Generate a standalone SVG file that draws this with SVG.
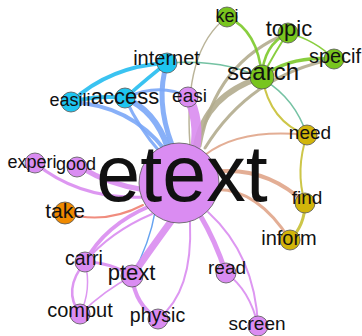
<svg xmlns="http://www.w3.org/2000/svg" width="362" height="336" viewBox="0 0 362 336">
<style>
text{font-family:"Liberation Sans",Arial,sans-serif;fill:#111;text-anchor:middle}
.n{stroke:#555;stroke-width:0.8}
.pk{fill:#da8cf2}.bl{fill:#1ec5f0}.gr{fill:#78c51e}.ye{fill:#d2b50a}.or{fill:#f08a00}
path{fill:none;stroke-linecap:round;stroke-opacity:0.9}
.ep{stroke:#d98cf0}.eb{stroke:#7ba7f7}.ec{stroke:#25bcef}.eg{stroke:#7cc92a}
.et{stroke:#b3ac8e}.es{stroke:#e0a58a}.ea{stroke:#66bb99}.ey{stroke:#c8c035}.er{stroke:#ee8070}
</style>
<g id="connectors">
<path class="et" d="M190,145 Q183,50 227,17" stroke-width="1.5"/>
<path class="et" d="M200,146 Q215,62 288,33" stroke-width="3"/>
<path class="et" d="M205,148 Q250,75 334,59" stroke-width="3"/>
<path class="et" d="M196,146 Q205,95 262,77" stroke-width="6"/>
<path class="ea" d="M167,63 Q280,55 307,135" stroke-width="1.5"/>
<path class="ey" d="M262,77 Q270,122 307,135" stroke-width="2"/>
<path class="eg" d="M227,17 Q258,30 262,77" stroke-width="2.5"/>
<path class="eg" d="M262,77 Q263,45 288,33" stroke-width="2.5"/>
<path class="eg" d="M262,77 Q276,50 288,33" stroke-width="2"/>
<path class="eg" d="M262,77 Q290,55 334,59" stroke-width="3.5"/>
<path class="eg" d="M288,33 Q315,40 334,59" stroke-width="1.5"/>
<path class="ey" d="M307,135 Q295,170 305,203" stroke-width="2"/>
<path class="ey" d="M305,203 Q305,225 290,240" stroke-width="3"/>
<path class="es" d="M205,155 Q240,128 307,135" stroke-width="2"/>
<path class="es" d="M212,172 Q265,165 305,203" stroke-width="4"/>
<path class="es" d="M210,190 Q255,185 290,240" stroke-width="3"/>
<path class="er" d="M65,213 Q105,225 143,205" stroke-width="2"/>
<path class="ec" d="M71,102 Q110,66 167,63" stroke-width="4"/>
<path class="ec" d="M125,98 Q150,76 167,63" stroke-width="3.5"/>
<path class="ec" d="M71,102 Q98,95 125,98" stroke-width="4"/>
<path class="eb" d="M125,98 Q160,82 188,97" stroke-width="3"/>
<path class="eb" d="M71,102 Q130,105 165,150" stroke-width="4"/>
<path class="eb" d="M125,98 Q155,110 168,148" stroke-width="6"/>
<path class="eb" d="M125,98 Q140,130 160,152" stroke-width="3"/>
<path class="eb" d="M167,63 Q155,100 172,145" stroke-width="5"/>
<path stroke="#5599ee" d="M155,212 Q150,242 132,276" stroke-width="1.5"/>
<path class="ep" d="M188,97 Q200,120 195,150" stroke-width="10"/>
<path class="ep" d="M80,167 Q110,185 145,190" stroke-width="5"/>
<path class="ep" d="M35,163 Q80,200 145,197" stroke-width="3"/>
<path class="ep" d="M150,206 Q105,225 85,262" stroke-width="4"/>
<path class="ep" d="M152,214 Q110,232 85,262" stroke-width="2"/>
<path class="ep" d="M172,220 Q150,250 132,276" stroke-width="7"/>
<path class="ep" d="M85,262 Q110,262 132,276" stroke-width="3"/>
<path class="ep" d="M80,314 Q105,290 132,276" stroke-width="1.5"/>
<path class="ep" d="M85,262 Q62,290 80,314" stroke-width="2.5"/>
<path class="ep" d="M85,262 Q92,290 80,314" stroke-width="1.5"/>
<path class="ep" d="M132,276 Q135,305 158,319" stroke-width="4"/>
<path class="ep" d="M190,222 Q193,292 158,319" stroke-width="2"/>
<path class="ep" d="M200,215 Q215,240 226,273" stroke-width="5"/>
<path class="ep" d="M208,212 Q255,255 258,326" stroke-width="2"/>
<path class="ep" d="M226,273 Q250,290 258,326" stroke-width="2"/>
</g>
<g id="node-etext"><circle class="n pk" cx="179" cy="183" r="40"/><text x="182" y="201" font-size="79">etext</text></g>
<g id="node-kei"><circle class="n gr" cx="227" cy="17" r="10"/><text x="227" y="22" font-size="18">kei</text></g>
<g id="node-topic"><circle class="n gr" cx="288" cy="33" r="10"/><text x="289" y="36" font-size="22">topic</text></g>
<g id="node-specif"><circle class="n gr" cx="334" cy="59" r="10"/><text x="335" y="63" font-size="20">specif</text></g>
<g id="node-search"><circle class="n gr" cx="262" cy="77" r="12"/><text x="263" y="80" font-size="24">search</text></g>
<g id="node-internet"><circle class="n bl" cx="167" cy="63" r="10"/><text x="166.5" y="65" font-size="20">internet</text></g>
<g id="node-easili"><circle class="n bl" cx="71" cy="102" r="10"/><text x="70" y="106" font-size="18">easili</text></g>
<g id="node-access"><circle class="n bl" cx="125" cy="98" r="10"/><text x="125" y="104" font-size="22">access</text></g>
<g id="node-easi"><circle class="n pk" cx="188" cy="97" r="10"/><text x="189.5" y="102" font-size="19">easi</text></g>
<g id="node-need"><circle class="n ye" cx="307" cy="135" r="10"/><text x="310" y="139" font-size="19">need</text></g>
<g id="node-find"><circle class="n ye" cx="305" cy="203" r="10"/><text x="307" y="204" font-size="19">find</text></g>
<g id="node-inform"><circle class="n ye" cx="290" cy="240" r="10"/><text x="289" y="245" font-size="20">inform</text></g>
<g id="node-read"><circle class="n pk" cx="226" cy="273" r="10"/><text x="227" y="274" font-size="19">read</text></g>
<g id="node-screen"><circle class="n pk" cx="258" cy="326" r="10"/><text x="257" y="330" font-size="19">screen</text></g>
<g id="node-physic"><circle class="n pk" cx="158" cy="319" r="10"/><text x="157.5" y="322" font-size="19.5">physic</text></g>
<g id="node-ptext"><circle class="n pk" cx="132" cy="276" r="11"/><text x="131.5" y="280" font-size="22">ptext</text></g>
<g id="node-carri"><circle class="n pk" cx="85" cy="262" r="10"/><text x="84" y="265" font-size="19.5">carri</text></g>
<g id="node-comput"><circle class="n pk" cx="80" cy="314" r="10"/><text x="80" y="317" font-size="20">comput</text></g>
<g id="node-take"><circle class="n or" cx="65" cy="213" r="11"/><text x="65" y="218" font-size="21">take</text></g>
<g id="node-experi"><circle class="n pk" cx="35" cy="163" r="10"/><text x="32" y="168" font-size="18">experi</text></g>
<g id="node-good"><circle class="n pk" cx="77" cy="167" r="10"/><text x="76" y="170" font-size="18">good</text></g>
</svg>
